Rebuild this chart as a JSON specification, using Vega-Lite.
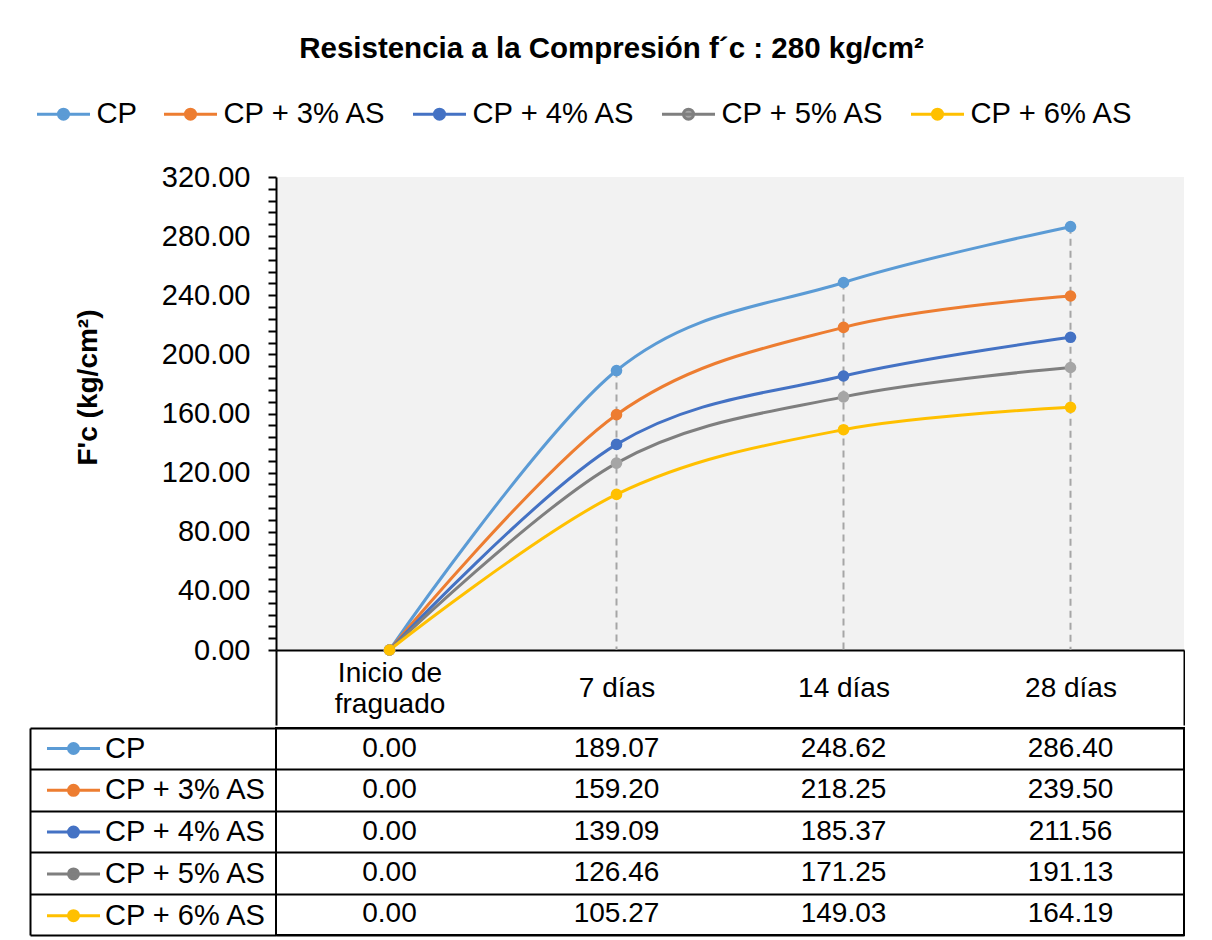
{
  "$schema": "https://vega.github.io/schema/vega-lite/v6.json",
  "padding": {"left": 28, "top": 33, "right": 0, "bottom": 0},
  "background": "#ffffff",
  "title": {"text": "Resistencia a la Compresión f´c : 280 kg/cm²", "font": "Liberation Sans", "fontSize": 29.5, "fontWeight": "bold", "color": "#000000", "anchor": "middle", "offset": 29.5, "dx": 5},
  "config": {"font": "Liberation Sans", "view": {"stroke": null}, "concat": {"spacing": 0}},
  "datasets": {
    "fc": [
      {"serie": "CP", "edad": "Inicio de fraguado", "fc": 0},
      {"serie": "CP", "edad": "7 días", "fc": 189.07},
      {"serie": "CP", "edad": "14 días", "fc": 248.62},
      {"serie": "CP", "edad": "28 días", "fc": 286.40},
      {"serie": "CP + 3% AS", "edad": "Inicio de fraguado", "fc": 0},
      {"serie": "CP + 3% AS", "edad": "7 días", "fc": 159.20},
      {"serie": "CP + 3% AS", "edad": "14 días", "fc": 218.25},
      {"serie": "CP + 3% AS", "edad": "28 días", "fc": 239.50},
      {"serie": "CP + 4% AS", "edad": "Inicio de fraguado", "fc": 0},
      {"serie": "CP + 4% AS", "edad": "7 días", "fc": 139.09},
      {"serie": "CP + 4% AS", "edad": "14 días", "fc": 185.37},
      {"serie": "CP + 4% AS", "edad": "28 días", "fc": 211.56},
      {"serie": "CP + 5% AS", "edad": "Inicio de fraguado", "fc": 0},
      {"serie": "CP + 5% AS", "edad": "7 días", "fc": 126.46},
      {"serie": "CP + 5% AS", "edad": "14 días", "fc": 171.25},
      {"serie": "CP + 5% AS", "edad": "28 días", "fc": 191.13},
      {"serie": "CP + 6% AS", "edad": "Inicio de fraguado", "fc": 0},
      {"serie": "CP + 6% AS", "edad": "7 días", "fc": 105.27},
      {"serie": "CP + 6% AS", "edad": "14 días", "fc": 149.03},
      {"serie": "CP + 6% AS", "edad": "28 días", "fc": 164.19}
    ]
  },
  "resolve": {"scale": {"x": "independent", "y": "independent"}, "legend": {"color": "independent"}},
  "spacing": 0,
  "vconcat": [
    {
      "width": 908,
      "height": 473,
      "view": {"fill": "#F2F2F2", "stroke": null},
      "data": {"name": "fc"},
      "encoding": {
        "x": {
          "field": "edad", "type": "nominal",
          "sort": ["Inicio de fraguado", "7 días", "14 días", "28 días"],
          "scale": {"type": "band", "paddingInner": 0, "paddingOuter": 0},
          "axis": {
            "title": null, "labelAngle": 0, "labelFontSize": 28, "labelColor": "#000000",
            "labelBaseline": "middle", "labelLineHeight": 31,
            "labelPadding": {"condition": {"test": "datum.value === 'Inicio de fraguado'", "value": -52}, "value": -36.5},
            "labelExpr": "datum.value === 'Inicio de fraguado' ? ['Inicio de', 'fraguado'] : datum.label",
            "labelOverlap": false, "labelLimit": 300,
            "domainColor": "#000000", "domainWidth": 2,
            "tickBand": "extent", "tickSize": 75, "tickWidth": 2, "tickColor": "#000000",
            "tickOpacity": {"condition": {"test": "datum.value === '28 días' || datum.extra", "value": 1}, "value": 0}
          }
        },
        "y": {
          "field": "fc", "type": "quantitative",
          "scale": {"domain": [0, 320], "nice": false},
          "axis": {
            "title": "F'c (kg/cm²)",
            "values": [0, 8, 16, 24, 32, 40, 48, 56, 64, 72, 80, 88, 96, 104, 112, 120, 128, 136, 144, 152, 160, 168, 176, 184, 192, 200, 208, 216, 224, 232, 240, 248, 256, 264, 272, 280, 288, 296, 304, 312, 320],
            "labelExpr": "datum.value % 40 === 0 ? format(datum.value, '.2f') : ''",
            "labelOverlap": false, "grid": false,
            "labelFontSize": 29, "labelColor": "#000000", "labelPadding": 18,
            "tickSize": 8, "tickWidth": 2, "tickColor": "#000000",
            "domainColor": "#000000", "domainWidth": 2,
            "titleFontSize": 28, "titleFontWeight": "bold", "titleColor": "#000000",
            "titleX": -174, "titleY": 210, "minExtent": 246, "maxExtent": 246
          }
        }
      },
      "layer": [
        {
          "transform": [{"filter": "datum.serie === 'CP'"}],
          "mark": {"type": "rule", "color": "#A6A6A6", "strokeWidth": 2, "strokeDash": [7, 5]},
          "encoding": {"y2": {"datum": 0}}
        },
        {
          "mark": {"type": "line", "interpolate": "cardinal", "strokeWidth": 3},
          "encoding": {
            "color": {
              "field": "serie", "type": "nominal",
              "scale": {"domain": ["CP", "CP + 3% AS", "CP + 4% AS", "CP + 5% AS", "CP + 6% AS"], "range": ["#5B9BD5", "#ED7D31", "#4472C4", "#7F7F7F", "#FFC000"]},
              "legend": {
                "orient": "none", "legendX": -233, "legendY": -83.5, "direction": "horizontal",
                "title": null, "labelFontSize": 29.2, "labelColor": "#000000", "labelLimit": 300, "labelOffset": 12.5,
                "columnPadding": 19,
                "symbolType": "M-1.395,0H1.395M0.263,0A0.263,0.263,0,1,1,-0.263,0A0.263,0.263,0,1,1,0.263,0Z",
                "symbolSize": 1444, "symbolStrokeWidth": 3, "symbolOpacity": 1,
                "encode": {"symbols": {"update": {"fill": {"scale": "fill", "field": "value"}, "stroke": {"scale": "color", "field": "value"}, "opacity": {"value": 1}}}}
              }
            }
          }
        },
        {
          "mark": {"type": "point", "filled": true, "size": 135, "opacity": 1},
          "encoding": {
            "fill": {
              "field": "serie", "type": "nominal",
              "scale": {"domain": ["CP", "CP + 3% AS", "CP + 4% AS", "CP + 5% AS", "CP + 6% AS"], "range": ["#5B9BD5", "#ED7D31", "#4472C4", "#A5A5A5", "#FFC000"]},
              "legend": null
            }
          }
        }
      ]
    },
    {
      "width": 908,
      "height": 207,
      "view": {"stroke": "#000000", "strokeWidth": 2},
      "data": {"name": "fc"},
      "encoding": {
        "y": {
          "field": "serie", "type": "nominal",
          "sort": ["CP", "CP + 3% AS", "CP + 4% AS", "CP + 5% AS", "CP + 6% AS"],
          "scale": {"type": "band", "paddingInner": 0, "paddingOuter": 0},
          "axis": {
            "title": null, "labels": false, "offset": 246,
            "domain": true, "domainColor": "#000000", "domainWidth": 2,
            "ticks": true, "tickBand": "extent", "tickSize": -246, "tickColor": "#000000", "tickWidth": 2,
            "grid": true, "gridColor": "#000000", "gridWidth": 2
          }
        }
      },
      "layer": [
        {
          "mark": {"type": "text", "fontSize": 28, "color": "#000000", "baseline": "middle"},
          "encoding": {
            "x": {
              "field": "edad", "type": "nominal",
              "sort": ["Inicio de fraguado", "7 días", "14 días", "28 días"],
              "scale": {"type": "band", "paddingInner": 0, "paddingOuter": 0},
              "axis": null
            },
            "text": {"field": "fc", "type": "quantitative", "format": ".2f"}
          }
        },
        {
          "transform": [{"filter": "datum.edad === '7 días'"}],
          "mark": {"type": "point", "filled": true, "opacity": 0},
          "encoding": {
            "color": {
              "field": "serie", "type": "nominal",
              "legend": {
                "orient": "none", "legendX": -223, "legendY": 0, "direction": "vertical",
                "title": null, "labelFontSize": 29, "labelColor": "#000000", "labelLimit": 300, "labelOffset": 11,
                "rowPadding": 5.8,
                "symbolType": "M-1.395,0H1.395M0.263,0A0.263,0.263,0,1,1,-0.263,0A0.263,0.263,0,1,1,0.263,0Z",
                "symbolSize": 1444, "symbolStrokeWidth": 3, "symbolOpacity": 1,
                "encode": {"symbols": {"update": {"fill": {"scale": "fill", "field": "value"}, "stroke": {"scale": "color", "field": "value"}, "opacity": {"value": 1}}}}
              }
            }
          }
        }
      ]
    }
  ]
}
